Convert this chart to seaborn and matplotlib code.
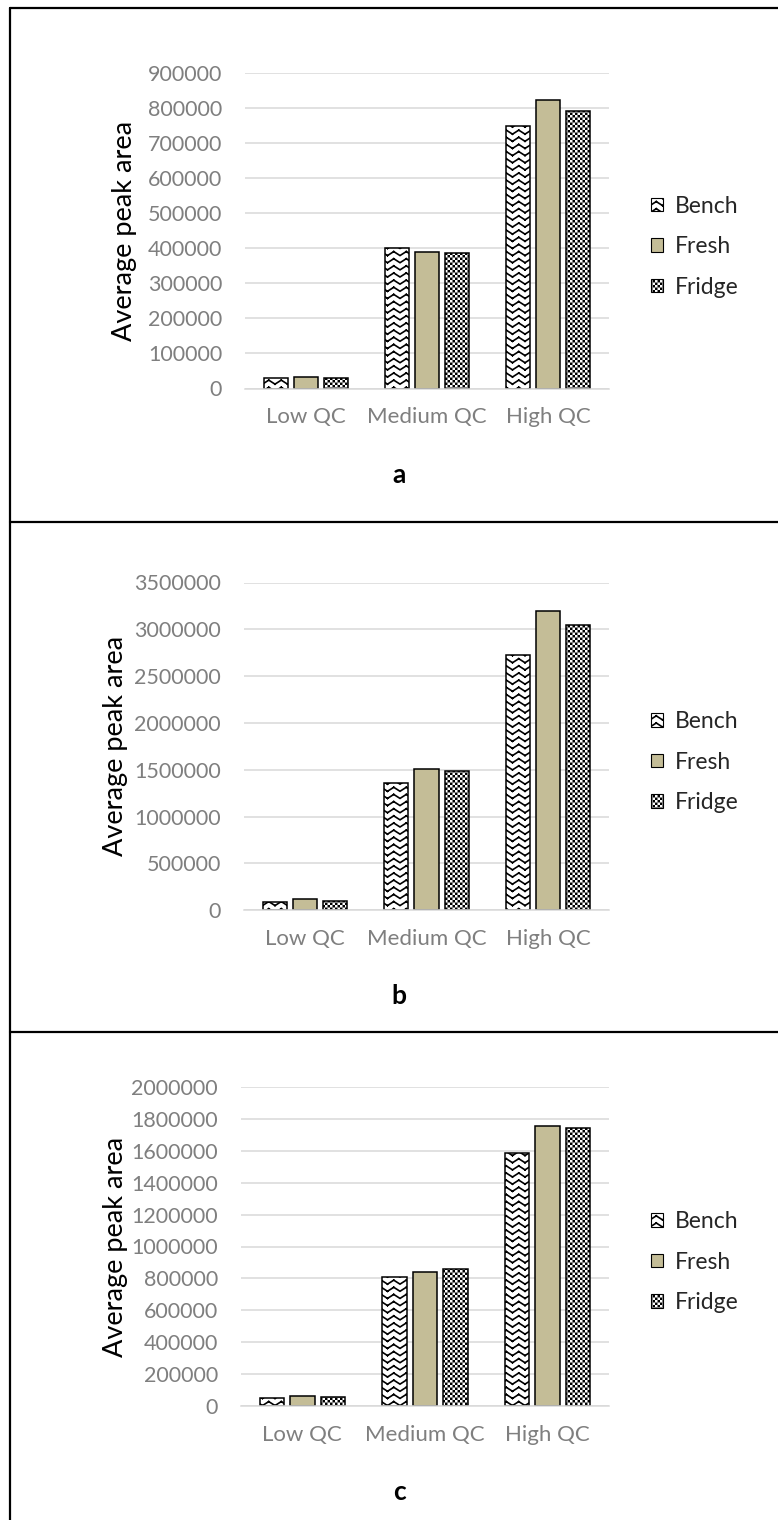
import warnings
import numpy as np
import pandas as pd
import matplotlib
matplotlib.use('Agg')
import matplotlib.pyplot as plt
import matplotlib.hatch as mhatch
import matplotlib.patches as mpatches
from matplotlib.path import Path
from matplotlib.lines import Line2D
from matplotlib.ticker import StrMethodFormatter
import seaborn as sns

warnings.filterwarnings('ignore')

categories = ['Low QC', 'Medium QC', 'High QC']
conditions = ['Bench', 'Fresh', 'Fridge']

bench_a = [29000, 402000, 750000]
fresh_a = [32000, 391000, 823000]
fridge_a = [30000, 388000, 791000]

bench_b = [93000, 1364000, 2728000]
fresh_b = [118000, 1513000, 3198000]
fridge_b = [103000, 1489000, 3045000]

bench_c = [52000, 807000, 1585000]
fresh_c = [65000, 840000, 1754000]
fridge_c = [58000, 859000, 1739000]

ymax = {'a': 900000, 'b': 3500000, 'c': 2000000}
ystep = {'a': 100000, 'b': 500000, 'c': 200000}


# Excel-like fill patterns: zigzag and small checkerboard
class ZigZagHatch(mhatch.HatchPatternBase):
    def __init__(self, hatch, density):
        self.rows = hatch.count('z') * 14
        self.segs = 16
        self.num_vertices = self.rows * self.segs * 2

    def set_vertices_and_codes(self, vertices, codes):
        amp = 0.02
        xs = np.linspace(0, 1, self.segs + 1)
        ys = np.where(np.arange(self.segs + 1) % 2 == 0, -amp, amp)
        k = 0
        for r in range(self.rows):
            y0 = (r + 0.5) / self.rows
            for s in range(self.segs):
                vertices[k] = (xs[s], y0 + ys[s])
                vertices[k + 1] = (xs[s + 1], y0 + ys[s + 1])
                codes[k] = Path.MOVETO
                codes[k + 1] = Path.LINETO
                k += 2


class CheckerHatch(mhatch.HatchPatternBase):
    def __init__(self, hatch, density):
        self.n = hatch.count('k') * 40
        self.num_vertices = (self.n * self.n // 2) * 5

    def set_vertices_and_codes(self, vertices, codes):
        cell = 1.0 / self.n
        half = 0.004
        k = 0
        for i in range(self.n):
            for j in range(self.n):
                if (i + j) % 2:
                    continue
                cx, cy = (i + 0.5) * cell, (j + 0.5) * cell
                vertices[k:k + 5] = [(cx - half, cy - half), (cx + half, cy - half),
                                     (cx + half, cy + half), (cx - half, cy + half),
                                     (cx - half, cy - half)]
                codes[k:k + 5] = [Path.MOVETO, Path.LINETO, Path.LINETO,
                                  Path.LINETO, Path.CLOSEPOLY]
                k += 5


mhatch._hatch_types.extend([ZigZagHatch, CheckerHatch])

sns.set_theme(style='white')
plt.rcParams['font.family'] = ['Lato', 'DejaVu Sans']
plt.rcParams['hatch.linewidth'] = 1.2
plt.rcParams['hatch.color'] = 'black'

W, H = 778, 1520
fig = plt.figure(figsize=(W / 100, H / 100), dpi=100)

colors = ['white', '#C4BD97', 'white']
hatches = ['z', None, 'k']
grey = '#7f7f7f'
light = '#d9d9d9'

# pixel layout of each panel: left, right, top, bottom, ylabel right edge, letter y
panels = [
    ('a', bench_a, fresh_a, fridge_a, 245, 609, 73.3, 388.5, 137, 475),
    ('b', bench_b, fresh_b, fridge_b, 244, 609, 582.5, 910.3, 128, 996.5),
    ('c', bench_c, fresh_c, fridge_c, 241, 609, 1086.7, 1406.3, 128, 1492),
]

for name, bench, fresh, fridge, left, right, top, bottom, ylab_x, letter_y in panels:
    ax = fig.add_axes([left / W, 1 - bottom / H, (right - left) / W, (bottom - top) / H])
    df = pd.DataFrame({
        'category': categories * 3,
        'condition': np.repeat(conditions, 3),
        'value': bench + fresh + fridge,
    })
    sns.barplot(data=df, x='category', y='value', hue='condition',
                order=categories, hue_order=conditions, palette=colors,
                saturation=1, edgecolor='black', linewidth=1.1,
                width=0.744, gap=0.2, errorbar=None, legend=False, ax=ax)
    for cont, h in zip(ax.containers, hatches):
        for p in cont:
            p.set_hatch(h)

    ax.set_xlim(-0.5, 2.5)
    ax.set_ylim(0, ymax[name])
    ax.set_yticks(np.arange(0, ymax[name] + 1, ystep[name]))
    ax.yaxis.set_major_formatter(StrMethodFormatter('{x:.0f}'))
    ax.set_xticks([-0.5, 0.5, 1.5, 2.5], minor=True)
    ax.yaxis.grid(True, color=light, linewidth=1.1)
    ax.xaxis.grid(False)
    ax.set_axisbelow(True)
    for s in ['top', 'right', 'left']:
        ax.spines[s].set_visible(False)
    ax.spines['bottom'].set_color(light)
    ax.spines['bottom'].set_linewidth(1.1)

    ax.tick_params(axis='y', length=0, pad=16.5, labelsize=15.5, labelcolor=grey)
    ax.tick_params(axis='x', which='major', length=0, pad=13.5, labelsize=16, labelcolor=grey)
    ax.tick_params(axis='x', which='minor', length=4.3, width=1.1, color=light, direction='out')

    ax.set_xlabel('')
    ax.set_ylabel('Average peak area', fontsize=19.5, color='black')
    ax.yaxis.set_label_coords((ylab_x - left) / (right - left), 0.5)

    handles = [mpatches.Patch(facecolor=c, edgecolor='black', hatch=h, linewidth=0.8, label=l)
               for c, h, l in zip(colors, hatches, conditions)]
    mid = (top + bottom) / 2 + 15.7
    ax.legend(handles=handles, loc='center left',
              bbox_to_anchor=(650.5 / W, 1 - mid / H), bbox_transform=fig.transFigure,
              frameon=False, borderaxespad=0, borderpad=0, fontsize=16.5,
              handlelength=0.55, handleheight=0.55, handletextpad=0.5,
              labelspacing=0.85)

    fig.text(399 / W, 1 - letter_y / H, name, ha='center', va='center',
             fontsize=19, fontweight='bold', color='black')

# table borders around the panels
border = dict(color='black', linewidth=1.6, transform=fig.transFigure)
fig.add_artist(Line2D([10 / W, 1], [1 - 8 / H, 1 - 8 / H], **border))
fig.add_artist(Line2D([10 / W, 10 / W], [0, 1 - 8 / H], **border))
for yy in [522, 1032]:
    fig.add_artist(Line2D([10 / W, 1], [1 - yy / H, 1 - yy / H], **border))

plt.savefig('out.png', dpi=100)
